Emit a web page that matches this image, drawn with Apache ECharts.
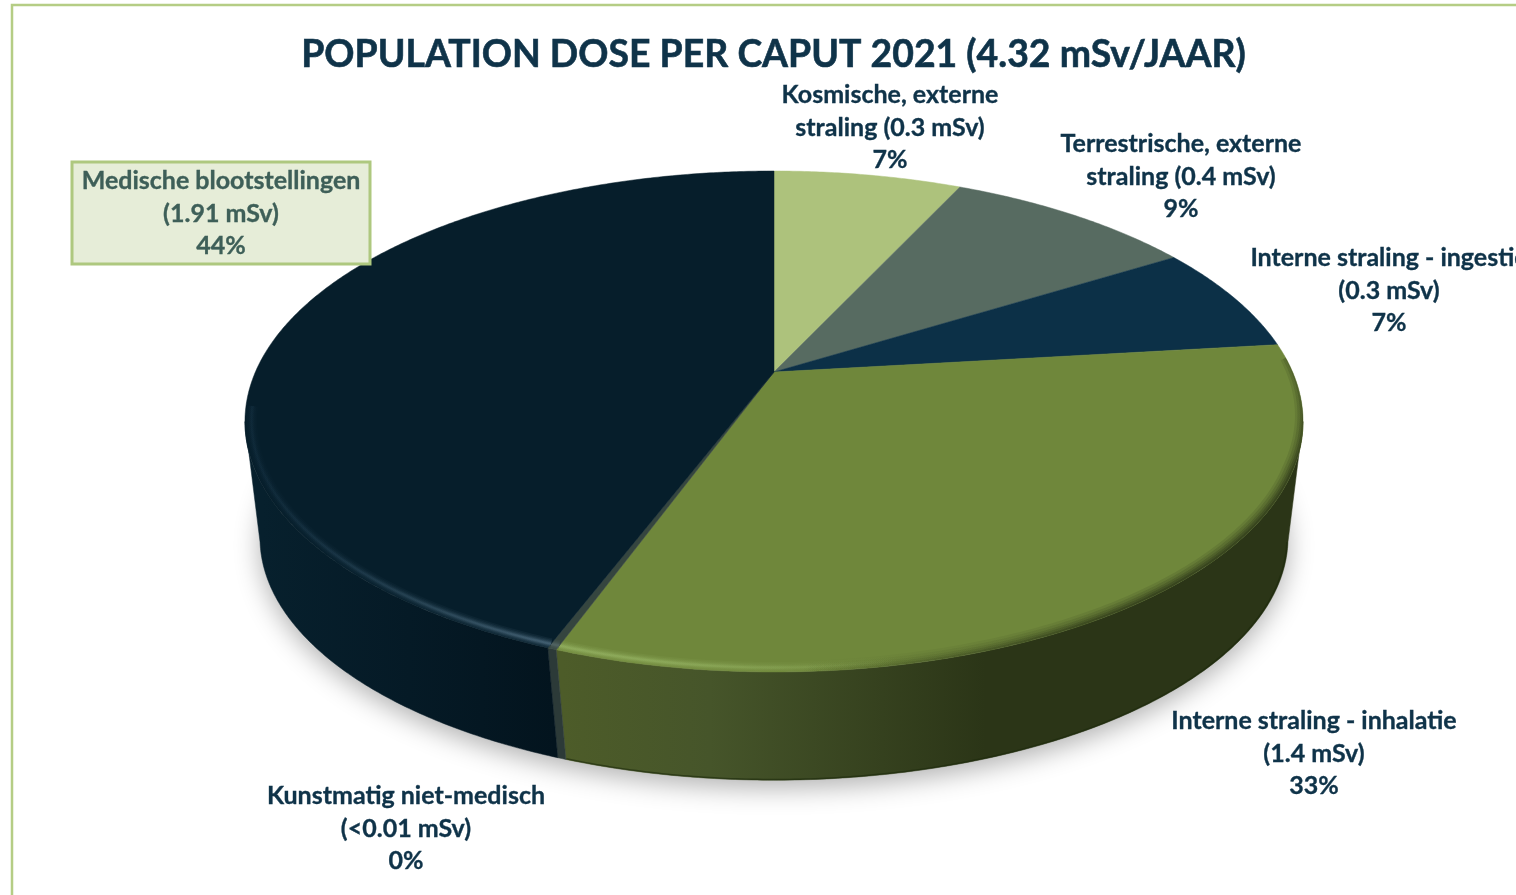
<!DOCTYPE html>
<html>
<head>
<meta charset="utf-8">
<title>Population dose per caput 2021</title>
<script src="https://cdn.jsdelivr.net/npm/echarts@6/dist/echarts.min.js"></script>
<style>
    html, body { margin: 0; padding: 0; background: #fff; overflow: hidden; }
    #chart { width: 1516px; height: 895px; }
</style>
</head>
<body>
<div id="chart"></div>
<script>
// Data
const categories = ['Kosmische, externe straling', 'Terrestrische, externe straling', 'Interne straling - ingestie', 'Interne straling - inhalatie', 'Kunstmatig niet-medisch', 'Medische blootstellingen'];
const doses = [0.3, 0.4, 0.3, 1.4, 0.01, 1.91];
const labelTexts = [
    'Kosmische, externe\nstraling (0.3 mSv)\n7%',
    'Terrestrische, externe\nstraling (0.4 mSv)\n9%',
    'Interne straling - ingestie\n(0.3 mSv)\n7%',
    'Interne straling - inhalatie\n(1.4 mSv)\n33%',
    'Kunstmatig niet-medisch\n(<0.01 mSv)\n0%',
    'Medische blootstellingen\n(1.91 mSv)\n44%'
];
const chartTitle = 'POPULATION DOSE PER CAPUT 2021 (4.32 mSv/JAAR)';

// Styling per slice
const topColors = ['#adc27c', '#576b61', '#0c3047', '#6f873b', '#35453f', '#061e2b'];
const labelCentres = [[890, 127.5], [1181, 176.5], [1389, 290.5], [1314, 753.5], [406, 828.5], [221, 213.5]];

const total = doses.reduce((a, b) => a + b, 0);
let running = 0;
const sliceData = doses.map((d, i) => {
    const row = [running, running + d, i];
    running += d;
    return row;
});

// Perspective of the tilted disc
const apexX = 774, apexY = 372;
const radiusX = 518.6, radiusY = 240.7, persp = 0.1976;
const bottomScale = 0.975, bottomApexY = 494, bottomPersp = 0.18;
const RAD = Math.PI / 180;

function pointOnDisc(deg, r, bottom) {
    const u = Math.sin(deg * RAD) * r;
    const v = -Math.cos(deg * RAD) * r;
    const w = 1 - (bottom ? bottomPersp : persp) * v;
    const px = radiusX * u / w;
    const py = radiusY * v / w;
    if (bottom) {
        return [apexX + bottomScale * px, bottomApexY + bottomScale * py];
    }
    return [apexX + px, apexY + py];
}

function arcPoints(from, to, r, bottom) {
    const pts = [];
    const n = Math.max(2, Math.ceil(Math.abs(to - from) * 2));
    for (let i = 0; i <= n; i++) {
        const deg = from + (to - from) * i / n;
        pts.push(pointOnDisc(deg, typeof r === 'function' ? r(deg) : r, bottom));
    }
    return pts;
}

function sliceAngles(api) {
    return [api.value(0) / total * 360, api.value(1) / total * 360];
}

function gradientX(x0, x1, stops) {
    return new echarts.graphic.LinearGradient(x0, 0, x1, 0, stops, true);
}

const sideFills = {
    3: gradientX(562, 985, [
        { offset: 0, color: '#4d5c29' },
        { offset: 0.35, color: '#46552a' },
        { offset: 1, color: '#2b3517' }
    ]),
    4: '#2c3a38',
    5: gradientX(262, 555, [
        { offset: 0, color: '#07202d' },
        { offset: 0.5, color: '#051a26' },
        { offset: 1, color: '#03141e' }
    ])
};

// Light band just inside the front edge
const rimLights = {
    3: gradientX(560, 900, [
        { offset: 0, color: 'rgba(150,180,100,1)' },
        { offset: 0.3, color: 'rgba(150,180,100,0.9)' },
        { offset: 1, color: 'rgba(150,180,100,0)' }
    ]),
    4: '#5a6c6c',
    5: gradientX(262, 556, [
        { offset: 0, color: 'rgba(30,60,80,0.35)' },
        { offset: 0.6, color: 'rgba(60,90,108,0.8)' },
        { offset: 1, color: 'rgba(85,115,135,1)' }
    ])
};

// Shade falling off towards the right edge of the green slice
const rimShade = gradientX(800, 1150, [
    { offset: 0, color: 'rgba(43,53,23,0)' },
    { offset: 1, color: 'rgba(43,53,23,1)' }
]);

// Visible front part of the rim, between the two silhouette points
const frontFrom = 101.4, frontTo = 258.6;

function renderSide(params, api) {
    const [a0, a1] = sliceAngles(api);
    const from = Math.max(a0, frontFrom);
    const to = Math.min(a1, frontTo);
    if (to <= from) {
        return { type: 'group', children: [] };
    }
    const i = api.value(2);
    const top = arcPoints(from, to, 1, false);
    const bottom = arcPoints(from, to, 1, true);
    return {
        type: 'group',
        children: [
            {
                type: 'polygon',
                shape: { points: top.concat(bottom.slice().reverse()) },
                style: { fill: sideFills[i], stroke: sideFills[i], lineWidth: 0.5 }
            },
            {
                type: 'polyline',
                shape: { points: arcPoints(from, to, 0.998, true) },
                style: { fill: 'none', stroke: '#1d2a0c', lineWidth: 1.5, opacity: i === 3 ? 0.6 : 0 }
            }
        ]
    };
}

function renderTop(params, api) {
    const [a0, a1] = sliceAngles(api);
    const i = api.value(2);
    const face = [[apexX, apexY]].concat(arcPoints(a0, a1, 1, false));
    const children = [{
        type: 'polygon',
        shape: { points: face },
        style: { fill: topColors[i], stroke: topColors[i], lineWidth: 0.5 }
    }];
    const from = Math.max(a0, 86);
    const to = Math.min(a1, 262);
    if (to > from && rimLights[i]) {
        const bevel = [];
        // blurred look from stacked strokes, wide to narrow
        [[11, 0.12], [8, 0.16], [5.5, 0.22], [3.5, 0.3], [1.8, 0.4]].forEach(function (b) {
            bevel.push({
                type: 'polyline',
                shape: { points: arcPoints(from, to, 0.988, false) },
                style: { fill: 'none', stroke: rimLights[i], lineWidth: b[0], opacity: b[1] }
            });
        });
        if (i === 3) {
            // edge moves outwards near the start so the shade tapers off
            const taper = function (deg) { return 1 + 0.012 * Math.max(0, (112 - deg) / 26); };
            [[22, 0.14], [17, 0.18], [12, 0.24], [8, 0.32], [4, 0.45]].forEach(function (b) {
                bevel.push({
                    type: 'polyline',
                    shape: { points: arcPoints(from, to, taper, false) },
                    style: { fill: 'none', stroke: rimShade, lineWidth: b[0], opacity: b[1] }
                });
            });
        }
        children.push({
            type: 'group',
            clipPath: { type: 'polygon', shape: { points: face } },
            children: bevel
        });
    }
    return { type: 'group', children: children };
}

function renderLabel(params, api) {
    const i = api.value(2);
    const c = labelCentres[i];
    const color = i === 5 ? '#3e5f58' : '#0f3349';
    return {
        type: 'text',
        style: {
            text: labelTexts[i],
            x: c[0],
            y: c[1],
            align: 'center',
            verticalAlign: 'middle',
            fill: color,
            stroke: color,
            lineWidth: 0.35,
            font: 'bold 25px Lato, sans-serif',
            lineHeight: 32.6
        }
    };
}

const chart = echarts.init(document.getElementById('chart'), null, { renderer: 'canvas' });

chart.setOption({
    animation: false,
    backgroundColor: '#ffffff',
    title: {
        text: chartTitle,
        left: 768.5,
        top: 31,
        textAlign: 'center',
        textStyle: {
            color: '#0f3349',
            fontFamily: 'Lato, sans-serif',
            fontWeight: 'bold',
            fontSize: 37.4,
            textBorderColor: '#0f3349',
            textBorderWidth: 0.6
        }
    },
    graphic: [
        {
            // chart frame, cut off by the screenshot on the right and bottom
            type: 'rect',
            z: 0,
            shape: { x: 12, y: 5, width: 1600, height: 1000 },
            style: { fill: '#fff', stroke: '#b5cd85', lineWidth: 2.5 }
        },
        {
            // ground shadow under the disc
            type: 'polygon',
            z: 1,
            shape: { points: arcPoints(0, 360, 1, true) },
            style: {
                fill: '#cfcfcf',
                shadowColor: 'rgba(0,0,0,0.3)',
                shadowBlur: 26,
                shadowOffsetY: 8
            }
        },
        {
            // highlighted label box for the largest slice
            type: 'rect',
            z: 3,
            shape: { x: 72, y: 162, width: 298, height: 102 },
            style: { fill: '#e6edd8', stroke: '#aec87f', lineWidth: 3 }
        }
    ],
    series: [
        { type: 'custom', coordinateSystem: 'none', silent: true, z: 2, renderItem: renderSide, data: sliceData },
        { type: 'custom', coordinateSystem: 'none', silent: true, z: 2.5, renderItem: renderTop, data: sliceData },
        { type: 'custom', coordinateSystem: 'none', silent: true, z: 4, renderItem: renderLabel, data: sliceData }
    ]
});

window.addEventListener('resize', function () {
    chart.resize();
});
</script>
</body>
</html>
